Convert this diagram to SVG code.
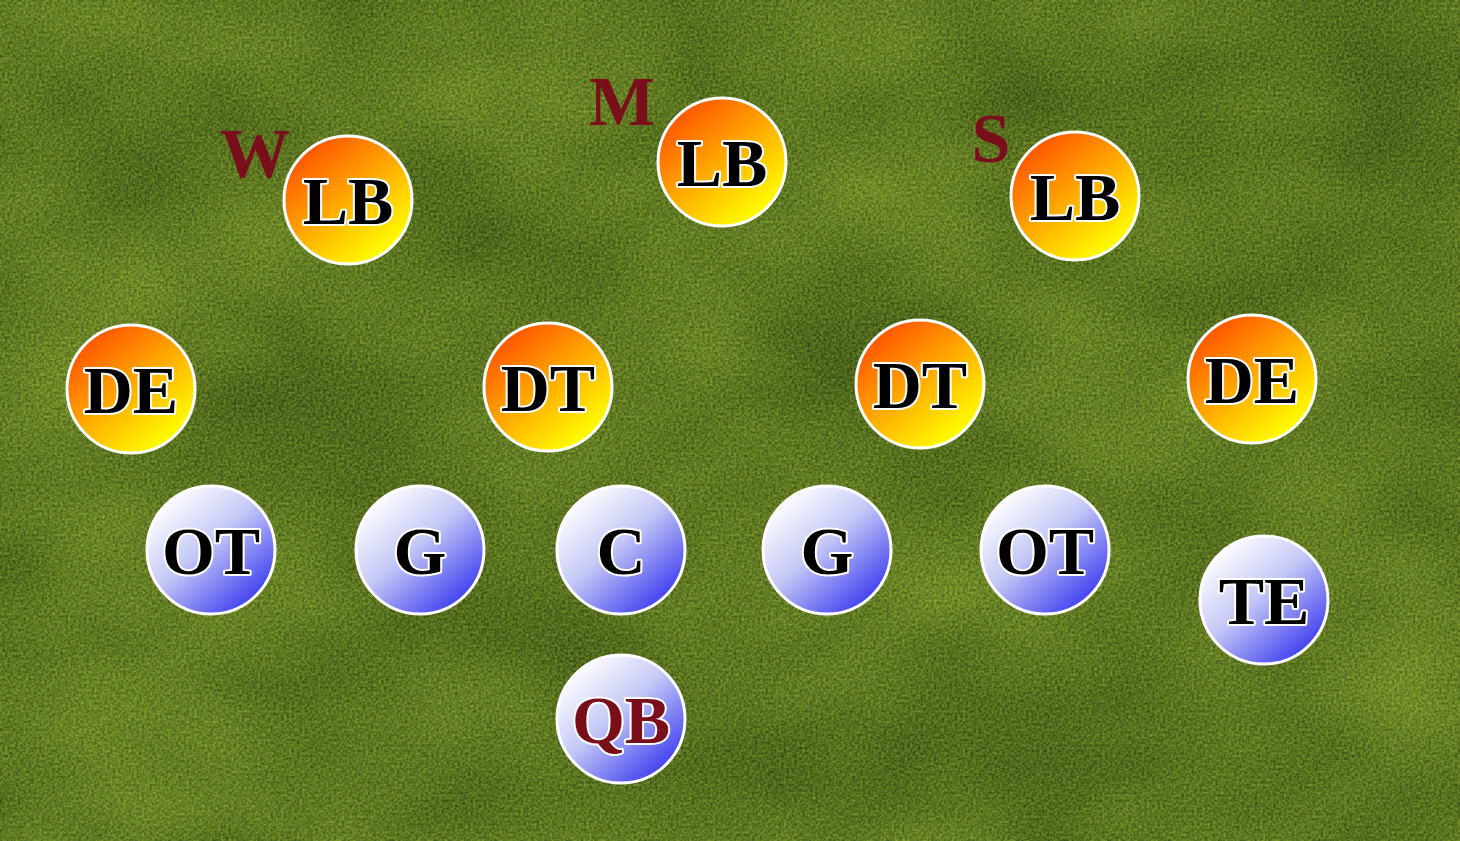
<svg xmlns="http://www.w3.org/2000/svg" width="1460" height="841" viewBox="0 0 1460 841">
<defs>
<filter id="grass" x="0" y="0" width="100%" height="100%" color-interpolation-filters="sRGB">
<feTurbulence type="fractalNoise" baseFrequency="0.38" numOctaves="2" seed="2" result="t1"/>
<feColorMatrix in="t1" type="matrix" values="1 0 0 0 0  0 1 0 0 0  0 0 1 0 0  0 0 0 0 1" result="n1"/>
<feTurbulence type="fractalNoise" baseFrequency="0.004 0.006" numOctaves="3" seed="7" result="t2"/>
<feColorMatrix in="t2" type="matrix" values="1 0 0 0 0  0 1 0 0 0  0 0 1 0 0  0 0 0 0 1" result="n2"/>
<feComposite in="n1" in2="n2" operator="arithmetic" k1="0" k2="0.9" k3="0.55" k4="-0.28" result="n"/>
<feColorMatrix in="n" type="matrix" values="0.42 0 0 0 0.18  0.46 0 0 0 0.26  0.16 0 0 0 0.06  0 0 0 0 1"/>
</filter>
<linearGradient id="def" x1="0.15" y1="0.1" x2="0.8" y2="0.9">
<stop offset="0" stop-color="#ff5200"/>
<stop offset="0.5" stop-color="#ffaa00"/>
<stop offset="1" stop-color="#ffff00"/>
</linearGradient>
<linearGradient id="off" x1="0.15" y1="0.1" x2="0.85" y2="0.9">
<stop offset="0" stop-color="#ffffff"/>
<stop offset="0.45" stop-color="#c4c8f6"/>
<stop offset="1" stop-color="#3c3cf0"/>
</linearGradient>
</defs>
<style>
.d{fill:url(#def);stroke:#ffffff;stroke-width:3}
.o{fill:url(#off);stroke:#ffffff;stroke-width:3}
.t{font-family:"Liberation Serif",serif;font-weight:bold;font-size:68px;text-anchor:middle;fill:#000;stroke:#fff;stroke-width:4;paint-order:stroke;stroke-linejoin:round}
.r{fill:#7a0f1c}
.lab{font-family:"Liberation Serif",serif;font-weight:bold;font-size:70px;text-anchor:middle;fill:#7a0f1c}
</style>
<rect x="0" y="0" width="1460" height="841" filter="url(#grass)"/>
<g id="connectors"></g>
<g id="lb-w"><text class="lab" x="255" y="177">W</text><circle class="d" cx="348" cy="200" r="64"/><text class="t" x="348" y="224">LB</text></g>
<g id="lb-m"><text class="lab" x="622" y="125">M</text><circle class="d" cx="722" cy="162" r="64"/><text class="t" x="722" y="186">LB</text></g>
<g id="lb-s"><text class="lab" x="991" y="162">S</text><circle class="d" cx="1075" cy="196" r="64"/><text class="t" x="1075" y="220">LB</text></g>
<g id="de-l"><circle class="d" cx="131" cy="389" r="64"/><text class="t" x="131" y="413">DE</text></g>
<g id="dt-l"><circle class="d" cx="548" cy="387" r="64"/><text class="t" x="548" y="411">DT</text></g>
<g id="dt-r"><circle class="d" cx="920" cy="384" r="64"/><text class="t" x="920" y="408">DT</text></g>
<g id="de-r"><circle class="d" cx="1252" cy="379" r="64"/><text class="t" x="1252" y="403">DE</text></g>
<g id="ot-l"><circle class="o" cx="211" cy="550" r="64"/><text class="t" x="211" y="574">OT</text></g>
<g id="g-l"><circle class="o" cx="420" cy="550" r="64"/><text class="t" x="420" y="574">G</text></g>
<g id="c"><circle class="o" cx="621" cy="550" r="64"/><text class="t" x="621" y="574">C</text></g>
<g id="g-r"><circle class="o" cx="827" cy="550" r="64"/><text class="t" x="827" y="574">G</text></g>
<g id="ot-r"><circle class="o" cx="1045" cy="550" r="64"/><text class="t" x="1045" y="574">OT</text></g>
<g id="te"><circle class="o" cx="1264" cy="600" r="64"/><text class="t" x="1264" y="624">TE</text></g>
<g id="qb"><circle class="o" cx="621" cy="719" r="64"/><text class="t r" x="621" y="743">QB</text></g>
</svg>
